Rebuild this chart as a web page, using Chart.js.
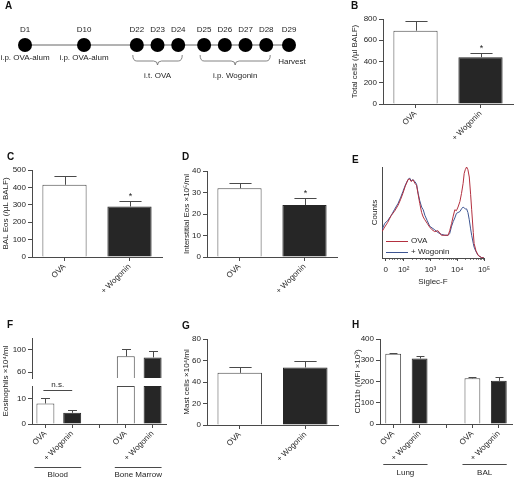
<!DOCTYPE html>
<html><head><meta charset="utf-8">
<script src="https://cdn.jsdelivr.net/npm/chart.js@4.4.1/dist/chart.umd.min.js"></script>
<style>
html,body{margin:0;padding:0;background:#fff;}
#fig{position:relative;width:514px;height:481px;overflow:hidden;background:#fff;}
canvas{position:absolute;}
</style></head><body>
<div id="fig">
<canvas id="cA" width="340" height="110" style="left:0;top:0"></canvas>
<canvas id="cB" width="174" height="160" style="left:340px;top:0"></canvas>
<canvas id="cC" width="172" height="160" style="left:0;top:145px"></canvas>
<canvas id="cD" width="165" height="160" style="left:175px;top:145px"></canvas>
<canvas id="cE" width="174" height="160" style="left:340px;top:145px"></canvas>
<canvas id="cF" width="175" height="171" style="left:0;top:310px"></canvas>
<canvas id="cG" width="165" height="171" style="left:175px;top:310px"></canvas>
<canvas id="cH" width="174" height="171" style="left:340px;top:310px"></canvas>
</div>
<script>
// ---------------- DATA ----------------
// Panel A: timeline
const timelineDays = ['D1','D10','D22','D23','D24','D25','D26','D27','D28','D29'];
const timelineSlot = [0, 2.85, 5.4, 6.4, 7.4, 8.65, 9.65, 10.65, 11.65, 12.75];
const timelineNotes = ['i.p. OVA-alum','i.p. OVA-alum','','','','','','','','Harvest'];
const braceGroups = [
  {from:'D22', to:'D24', text:'i.t. OVA'},
  {from:'D25', to:'D28', text:'i.p. Wogonin'}
];

// Bar panels
const groupLabels = ['OVA', '+ Wogonin'];
const totalCellsMean = [690, 440];
const totalCellsSem  = [90, 42];
const totalCellsSig  = ['', '*'];
const totalCellsTicks = [0, 200, 400, 600, 800];

const balEosMean = [415, 290];
const balEosSem  = [50, 30];
const balEosSig  = ['', '*'];
const balEosTicks = [0, 100, 200, 300, 400, 500];

const intEosMean = [32, 24.2];
const intEosSem  = [2.4, 3.3];
const intEosSig  = ['', '*'];
const intEosTicks = [0, 10, 20, 30, 40];

// Panel E: histogram (Siglec-F, display decades)
const siglecPos = [1.19,1.29,1.40,1.54,1.65,1.79,1.88,1.97,2.06,2.16,2.22,2.28,2.35,2.42,2.48,2.54,2.60,2.67,2.73,2.79,2.88,2.97,3.06,3.16,3.28,3.41,3.54,3.66,3.72,3.79,3.85,3.91,3.97,4.03,4.10,4.16,4.22,4.26,4.30,4.35,4.40,4.45,4.50,4.54,4.60,4.63,4.70,4.78,4.85,4.91,5.00];
const ovaCounts = [29,34,39,47,51,58,64,71,79,86,87,84,86,82,80,70,60,50,45,42,38,34,31,29,30,25,25,25,30,38,46,53,52,56,62,71,82,93,97,100,97,89,70,53,28,16,8,3,1.5,0.5,0];
const wogoninCounts = [31,38,41,47,53,60,66,73,80,86,88,85,86,84,81,71,63,56,53,47,41,35,33,31,28,26,25,25,27,35,40,44,49,50,51,54,56,55,54,54,50,42,32,25,16,12,7,3,1.5,0.5,0];
const siglecTickPos = [1.33, 2, 3, 4, 5];
const siglecTickLabels = ['0', '10\u00B2', '10\u00B3', '10\u2074', '10\u2075'];

// Panel F
const fLabels = ['OVA', '+ Wogonin', '', 'OVA', '+ Wogonin'];
const bloodEosMean = [8.1, 4.4];
const bloodEosSem  = [2.0, 1.0];
const marrowEosMean = [88, 86];
const marrowEosSem  = [12, 12];
const fLowTicks = [0, 5, 10, 15];
const fHighTicks = [60, 80, 100, 120];
const fGroups = ['Blood', 'Bone Marrow'];

// Panel G
const mastMean = [48.5, 53.5];
const mastSem  = [5.5, 6.0];
const mastTicks = [0, 20, 40, 60, 80];

// Panel H
const hLabels = ['OVA', '+ Wogonin', '', 'OVA', '+ Wogonin'];
const lungCd11bMean = [331, 308];
const lungCd11bSem  = [2, 10];
const balCd11bMean = [215, 203];
const balCd11bSem  = [4, 16];
const cd11bTicks = [0, 100, 200, 300, 400];
const hGroups = ['Lung', 'BAL'];

// ---------------- STYLE ----------------
const FONT = "'Liberation Sans', Arial, Helvetica, sans-serif";
const INK = '#1e1e1e';
const AXIS = '#4a4a4a';
const WHITE = '#ffffff';
const DARK = '#262626';
const RED = '#b3303f';
const BLUE = '#3d5592';
Chart.defaults.font.family = FONT;
Chart.defaults.font.size = 8;
Chart.defaults.color = INK;
Chart.defaults.animation = false;
Chart.defaults.responsive = false;
Chart.defaults.plugins.legend.display = false;
Chart.defaults.plugins.tooltip.enabled = false;

function letter(text, x, y) {
  return { id: 'letter', afterDraw(chart) {
    const c = chart.ctx; c.save();
    c.font = 'bold 10px ' + FONT; c.fillStyle = '#111';
    c.textAlign = 'left'; c.textBaseline = 'middle';
    c.fillText(text, x, y); c.restore();
  }};
}

const errorBars = { id: 'errorBars', afterDatasetsDraw(chart) {
  const ctx = chart.ctx; ctx.save(); ctx.lineWidth = 1;
  chart.data.datasets.forEach((ds, di) => {
    if (!ds.errors) return;
    const meta = chart.getDatasetMeta(di);
    const ys = chart.scales[meta.yAxisID];
    meta.data.forEach((bar, i) => {
      const v = ds.data[i], e = ds.errors[i];
      if (v == null || e == null) return;
      const x = Math.round(bar.x) + 0.5;
      const yv = ys.getPixelForValue(v), yt = Math.round(ys.getPixelForValue(v + e)) + 0.5;
      const hw = bar.width / 4;
      ctx.strokeStyle = AXIS;
      ctx.beginPath();
      ctx.moveTo(x, yv); ctx.lineTo(x, yt);
      ctx.moveTo(x - hw, yt); ctx.lineTo(x + hw, yt);
      ctx.stroke();
      if (ds.sig && ds.sig[i]) {
        ctx.fillStyle = INK; ctx.font = '9px ' + FONT;
        ctx.textAlign = 'center'; ctx.textBaseline = 'middle';
        ctx.fillText(ds.sig[i], x, yt - 5);
      }
    });
  });
  ctx.restore();
}};

function yAxis(ticks, title, titlePad, width, extra) {
  return Object.assign({
    min: ticks[0], max: ticks[ticks.length - 1],
    afterBuildTicks: s => { s.ticks = ticks.map(v => ({value: v})); },
    afterFit: s => { s.width = width; },
    grid: { drawOnChartArea: false, drawTicks: true, tickLength: 4, color: AXIS, tickColor: AXIS },
    border: { color: AXIS, width: 1 },
    ticks: { padding: 2, color: INK, font: { size: 8 } },
    title: { display: !!title, text: title, padding: { top: titlePad, bottom: 0 }, color: INK, font: { size: 8 } }
  }, extra || {});
}
function xAxis(labels, height) {
  return {
    type: 'category', labels: labels, offset: true,
    afterFit: s => { s.height = height; },
    grid: { offset: false, drawOnChartArea: false, tickLength: 4, color: AXIS, tickColor: AXIS },
    border: { color: AXIS, width: 1 },
    ticks: { minRotation: 45, maxRotation: 45, autoSkip: false, padding: 1, color: INK, font: { size: 8 } }
  };
}
function barDataset(data, errors, sig, pct, yAxisID) {
  return {
    data: data, errors: errors, sig: sig, yAxisID: yAxisID || 'y',
    backgroundColor: data.map((v, i) => (i % 3 === 0 || i === 3) && i !== 4 ? WHITE : DARK),
    borderColor: data.map((v, i) => (i % 3 === 0 || i === 3) && i !== 4 ? AXIS : DARK),
    borderWidth: 1, barPercentage: pct, categoryPercentage: 1, grouped: false
  };
}

function simpleBarPanel(id, means, sems, sig, ticks, title, titlePad, yWidth, xHeight, pad, L) {
  new Chart(document.getElementById(id), {
    type: 'bar',
    data: { labels: groupLabels, datasets: [barDataset(means, sems, sig, 0.68)] },
    options: {
      layout: { padding: pad },
      scales: { x: xAxis(groupLabels, xHeight), y: yAxis(ticks, title, titlePad, yWidth) }
    },
    plugins: [errorBars, letter(L[0], L[1], L[2])]
  });
}

// ---------------- PANEL A ----------------
new Chart(document.getElementById('cA'), {
  type: 'scatter',
  data: { datasets: [{
    data: timelineSlot.map(s => ({x: s, y: 0})),
    showLine: true, borderColor: '#666', borderWidth: 1,
    pointRadius: 7, pointBackgroundColor: '#000', pointBorderColor: '#000', pointBorderWidth: 0,
    clip: false
  }]},
  options: {
    layout: { padding: { left: 25, right: 51, top: 40, bottom: 60 } },
    scales: {
      x: { display: false, min: timelineSlot[0], max: timelineSlot[timelineSlot.length - 1] },
      y: { display: false, min: -1, max: 1 }
    }
  },
  plugins: [letter('A', 5, 6.5), { id: 'timelineText', afterDraw(chart) {
    const ctx = chart.ctx, meta = chart.getDatasetMeta(0);
    ctx.save(); ctx.fillStyle = INK; ctx.font = '8px ' + FONT;
    ctx.textAlign = 'center'; ctx.textBaseline = 'middle';
    meta.data.forEach((p, i) => {
      ctx.fillText(timelineDays[i], p.x, p.y - 15);
      if (timelineNotes[i]) ctx.fillText(timelineNotes[i], p.x + (i === meta.data.length - 1 ? 3 : 0), p.y + (i === meta.data.length - 1 ? 17 : 13));
    });
    ctx.strokeStyle = '#666'; ctx.lineWidth = 0.8;
    braceGroups.forEach(g => {
      const a = meta.data[timelineDays.indexOf(g.from)], b = meta.data[timelineDays.indexOf(g.to)];
      const x0 = a.x - 4, x1 = b.x + 4, xm = (x0 + x1) / 2;
      const y0 = a.y + 10, y1 = a.y + 16, y2 = a.y + 20, r = 4;
      ctx.beginPath();
      ctx.moveTo(x0, y0);
      ctx.quadraticCurveTo(x0, y1, x0 + r, y1);
      ctx.lineTo(xm - r, y1);
      ctx.quadraticCurveTo(xm, y1, xm, y2);
      ctx.quadraticCurveTo(xm, y1, xm + r, y1);
      ctx.lineTo(x1 - r, y1);
      ctx.quadraticCurveTo(x1, y1, x1, y0);
      ctx.stroke();
      ctx.fillText(g.text, xm, a.y + 31);
    });
    ctx.restore();
  }}]
});

// ---------------- PANELS B, C, D, G ----------------
simpleBarPanel('cB', totalCellsMean, totalCellsSem, totalCellsSig, totalCellsTicks, 'Total cells (/\u00B5l BALF)', 10, 43, 56, {top: 19, right: 1, left: 0, bottom: 0}, ['B', 11, 6.5]);
simpleBarPanel('cC', balEosMean, balEosSem, balEosSig, balEosTicks, 'BAL Eos (/\u00B5L BALF)', 1, 32, 48, {top: 25, right: 10, left: 0, bottom: 0}, ['C', 7, 12.5]);
simpleBarPanel('cD', intEosMean, intEosSem, intEosSig, intEosTicks, 'Interstitial Eos \u00D710\u2075/ml', 7, 32, 48, {top: 26, right: 3, left: 0, bottom: 0}, ['D', 7, 12.5]);
simpleBarPanel('cG', mastMean, mastSem, ['', ''], mastTicks, 'Mast cells \u00D710\u2074/ml', 7, 32, 56, {top: 29, right: 2, left: 0, bottom: 0}, ['G', 7, 16]);

// ---------------- PANEL E ----------------
new Chart(document.getElementById('cE'), {
  type: 'scatter',
  data: { datasets: [
    { data: siglecPos.map((x, i) => ({x: x, y: ovaCounts[i]})), showLine: true, borderColor: RED, borderWidth: 1, pointRadius: 0, tension: 0 },
    { data: siglecPos.map((x, i) => ({x: x, y: wogoninCounts[i]})), showLine: true, borderColor: BLUE, borderWidth: 1, pointRadius: 0, tension: 0 }
  ]},
  options: {
    layout: { padding: { top: 22, right: 30, left: 0, bottom: 0 } },
    scales: {
      x: {
        type: 'linear', min: siglecPos[0], max: siglecPos[siglecPos.length - 1],
        afterBuildTicks: s => { s.ticks = siglecTickPos.map(v => ({value: v})); },
        afterFit: s => { s.height = 47; },
        grid: { drawOnChartArea: false, tickLength: 3, color: AXIS, tickColor: AXIS },
        border: { color: AXIS },
        ticks: { padding: 4, color: INK, font: { size: 8 }, maxRotation: 0,
          callback: (v, i) => siglecTickLabels[i] },
        title: { display: true, text: 'Siglec-F', color: INK, font: { size: 8 }, padding: { top: 0, bottom: 18 } }
      },
      y: {
        min: 0, max: 100,
        afterFit: s => { s.width = 42; },
        grid: { display: false },
        border: { color: AXIS },
        ticks: { display: false },
        title: { display: true, text: 'Counts', color: INK, font: { size: 8 }, padding: { top: 30, bottom: 0 } }
      }
    }
  },
  plugins: [letter('E', 12, 15), { id: 'histExtras', afterDraw(chart) {
    const ctx = chart.ctx, a = chart.chartArea, xs = chart.scales.x;
    ctx.save();
    // minor ticks
    ctx.strokeStyle = AXIS; ctx.lineWidth = 0.7;
    const minors = [];
    for (let d = 2; d <= 4; d++) for (let k = 2; k <= 9; k++) minors.push(d + Math.log10(k));
    [1.45, 1.55, 1.65, 1.75, 1.85, 1.93].forEach(v => minors.push(v));
    ctx.beginPath();
    minors.forEach(v => { const x = Math.round(xs.getPixelForValue(v)) + 0.5; ctx.moveTo(x, a.bottom); ctx.lineTo(x, a.bottom + 2); });
    ctx.stroke();
    // legend
    ctx.lineWidth = 1; ctx.font = '8px ' + FONT; ctx.fillStyle = INK;
    ctx.textAlign = 'left'; ctx.textBaseline = 'middle';
    [[RED, 'OVA', a.bottom - 17], [BLUE, '+ Wogonin', a.bottom - 6]].forEach(([c, t, y]) => {
      ctx.strokeStyle = c; ctx.beginPath(); ctx.moveTo(a.left + 4, y + 0.5); ctx.lineTo(a.left + 26, y + 0.5); ctx.stroke();
      ctx.fillText(t, a.left + 29, y);
    });
    ctx.restore();
  }}]
});

// ---------------- PANEL F (broken axis) ----------------
const fMeans = [bloodEosMean[0], bloodEosMean[1], null, marrowEosMean[0], marrowEosMean[1]];
const fSems  = [bloodEosSem[0], bloodEosSem[1], null, marrowEosSem[0], marrowEosSem[1]];
const F_LOW_MAX = fLowTicks[fLowTicks.length - 1];
const F_HIGH_MIN = 50;
function groupPlugin(names, lineY, textY) {
  return { id: 'groups', afterDraw(chart) {
    const ctx = chart.ctx, meta = chart.getDatasetMeta(0);
    const bars = meta.data;
    ctx.save(); ctx.strokeStyle = AXIS; ctx.lineWidth = 1; ctx.fillStyle = INK;
    ctx.font = '8px ' + FONT; ctx.textAlign = 'center'; ctx.textBaseline = 'middle';
    names.forEach((n, gi) => {
      const b0 = bars[gi * 3], b1 = bars[gi * 3 + 1];
      const x0 = b0.x - b0.width / 2 - 2, x1 = b1.x + b1.width / 2;
      ctx.beginPath(); ctx.moveTo(x0, lineY + 0.5); ctx.lineTo(x1, lineY + 0.5); ctx.stroke();
      ctx.fillText(n, (x0 + x1) / 2, textY);
    });
    ctx.restore();
  }};
}
const fLowDs = barDataset(fMeans.map(v => v == null ? null : Math.min(v, F_LOW_MAX)),
  fMeans.map((v, i) => v != null && v <= F_LOW_MAX ? fSems[i] : null), null, 0.67, 'yLow');
const fHighDs = barDataset(fMeans.map(v => v != null && v > F_HIGH_MIN ? v : null),
  fMeans.map((v, i) => v != null && v > F_HIGH_MIN ? fSems[i] : null), null, 0.67, 'yHigh');
new Chart(document.getElementById('cF'), {
  type: 'bar',
  data: { labels: fLabels, datasets: [fLowDs, fHighDs] },
  options: {
    layout: { padding: { top: 28, right: 9, left: 0, bottom: 0 } },
    scales: {
      x: xAxis(fLabels, 57),
      yLow: yAxis(fLowTicks, '', 0, 32, { stack: 'f', stackWeight: 38, position: 'left' }),
      yGap: { stack: 'f', stackWeight: 8, position: 'left', min: 0, max: 1,
        afterFit: s => { s.width = 32; }, grid: { display: false }, border: { display: false }, ticks: { display: false } },
      yHigh: yAxis(fHighTicks, '', 0, 32, { stack: 'f', stackWeight: 40, position: 'left', min: F_HIGH_MIN })
    }
  },
  plugins: [errorBars, letter('F', 7, 15.5), groupPlugin(fGroups, 157, 165), { id: 'fExtras', afterDraw(chart) {
    const ctx = chart.ctx, a = chart.chartArea, yl = chart.scales.yLow, bars = chart.getDatasetMeta(0).data;
    ctx.save(); ctx.fillStyle = INK; ctx.font = '8px ' + FONT;
    ctx.translate(6, (a.top + a.bottom) / 2); ctx.rotate(-Math.PI / 2);
    ctx.textAlign = 'center'; ctx.textBaseline = 'middle';
    ctx.fillText('Eosinophils \u00D710\u2074/ml', 0, 0);
    ctx.restore();
    // n.s. bracket
    ctx.save(); ctx.strokeStyle = AXIS; ctx.lineWidth = 1; ctx.fillStyle = INK; ctx.font = '8px ' + FONT;
    ctx.textAlign = 'center'; ctx.textBaseline = 'middle';
    const y = Math.round(yl.getPixelForValue(13.3)) + 0.5;
    const x0 = bars[0].x - 2, x1 = bars[1].x;
    ctx.beginPath(); ctx.moveTo(x0, y); ctx.lineTo(x1, y); ctx.stroke();
    ctx.fillText('n.s.', (x0 + x1) / 2, y - 6);
    ctx.restore();
  }}]
});

// ---------------- PANEL H ----------------
const hMeans = [lungCd11bMean[0], lungCd11bMean[1], null, balCd11bMean[0], balCd11bMean[1]];
const hSems  = [lungCd11bSem[0], lungCd11bSem[1], null, balCd11bSem[0], balCd11bSem[1]];
new Chart(document.getElementById('cH'), {
  type: 'bar',
  data: { labels: hLabels, datasets: [barDataset(hMeans, hSems, null, 0.6)] },
  options: {
    layout: { padding: { top: 29, right: 2, left: 0, bottom: 0 } },
    scales: { x: xAxis(hLabels, 57), y: yAxis(cd11bTicks, 'CD11b (MFI \u00D710\u00B3)', 13, 40) }
  },
  plugins: [errorBars, letter('H', 12, 15.5), groupPlugin(hGroups, 154, 163)]
});
</script>
</body></html>
